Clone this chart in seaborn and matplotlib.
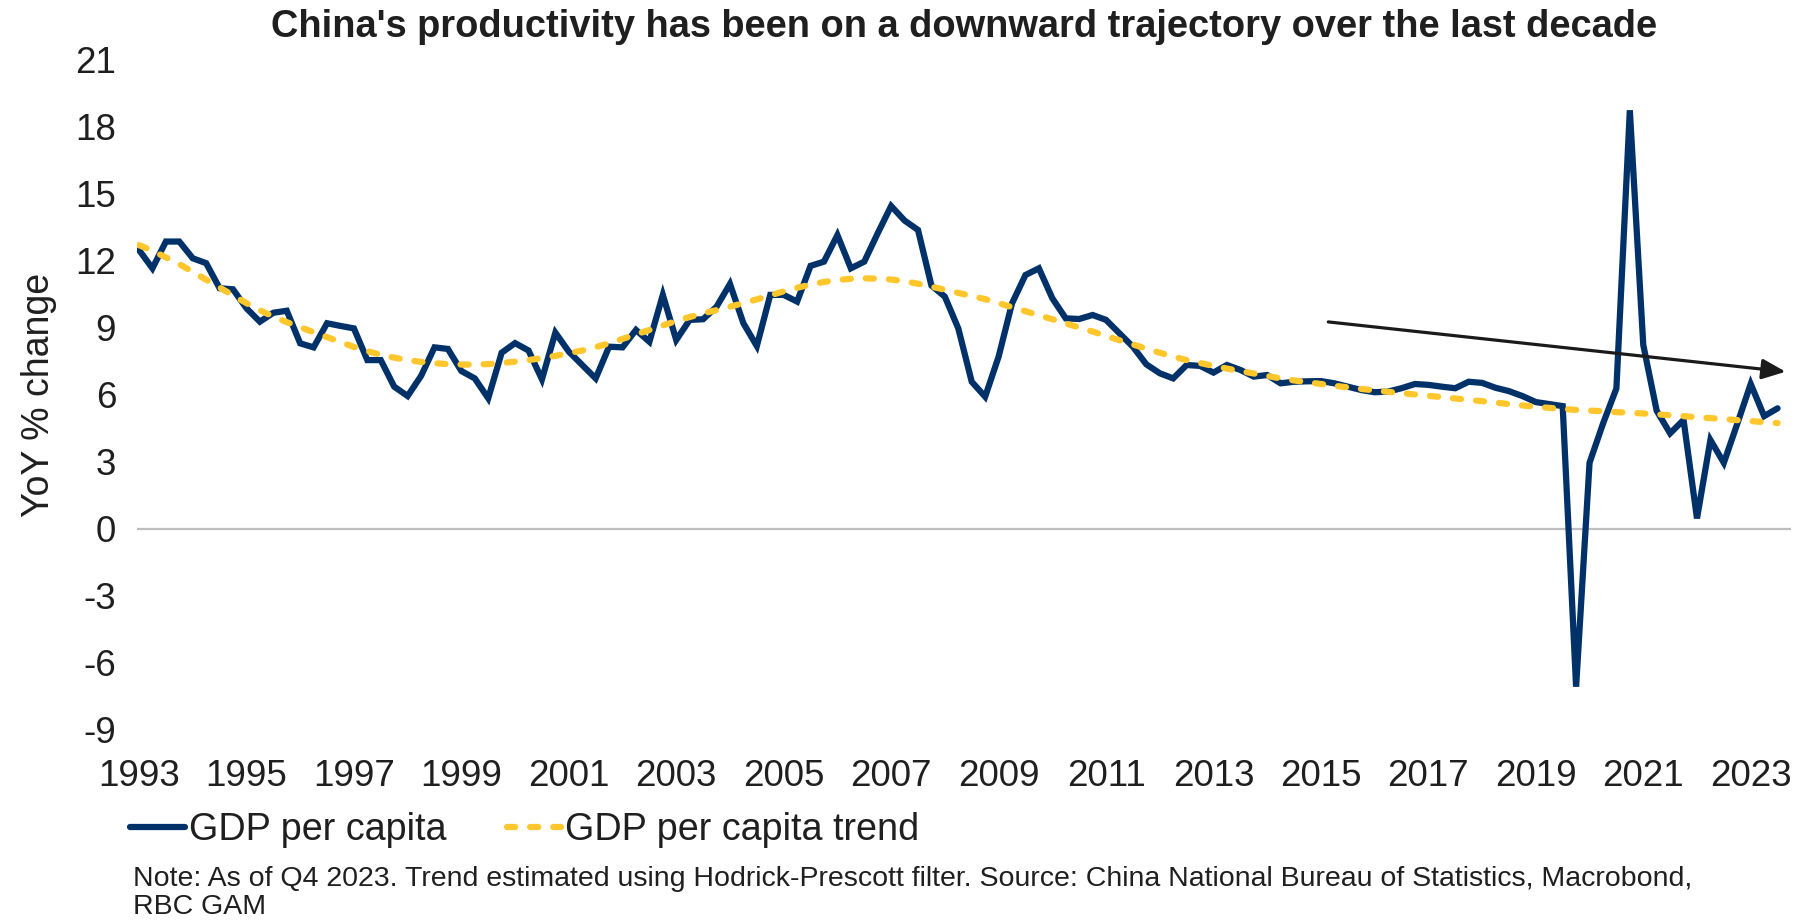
import matplotlib
matplotlib.use("Agg")
import matplotlib.pyplot as plt
import seaborn as sns
import pandas as pd
from matplotlib.lines import Line2D

# ---------------- data (quarterly, 1993 Q2 .. 2023 Q4) ----------------
gdp_per_capita = [
    12.48, 11.66, 12.86, 12.86, 12.11, 11.89, 10.77, 10.72, 9.87, 9.27,
    9.67, 9.76, 8.30, 8.12, 9.20, 9.08, 8.97, 7.55, 7.55, 6.36,
    5.94, 6.84, 8.12, 8.05, 7.06, 6.73, 5.84, 7.88, 8.31, 7.98,
    6.69, 8.78, 7.93, 7.33, 6.73, 8.15, 8.12, 8.90, 8.37, 10.47,
    8.45, 9.35, 9.38, 9.94, 10.96, 9.20, 8.18, 10.47, 10.47, 10.17,
    11.77, 11.96, 13.15, 11.66, 11.96, 13.23, 14.45, 13.80, 13.38, 10.89,
    10.39, 8.97, 6.58, 5.91, 7.70, 10.09, 11.36, 11.66, 10.32, 9.42,
    9.39, 9.57, 9.35, 8.75, 8.15, 7.36, 6.96, 6.73, 7.33, 7.29,
    6.99, 7.33, 7.11, 6.81, 6.88, 6.51, 6.58, 6.60, 6.61, 6.51,
    6.36, 6.21, 6.11, 6.14, 6.29, 6.48, 6.44, 6.36, 6.29, 6.58,
    6.53, 6.31, 6.16, 5.94, 5.67, 5.58, 5.49, -7.08, 2.95, 4.70,
    6.28, 18.74, 8.23, 5.28, 4.27, 4.87, 0.46, 3.97, 2.95, 4.70,
    6.48, 5.04, 5.39,
]
gdp_trend = [
    12.70, 12.45, 12.15, 11.85, 11.50, 11.15, 10.80, 10.45, 10.10, 9.78,
    9.50, 9.25, 9.02, 8.80, 8.58, 8.36, 8.14, 7.95, 7.79, 7.66,
    7.55, 7.47, 7.41, 7.37, 7.35, 7.35, 7.37, 7.42, 7.48, 7.55,
    7.64, 7.74, 7.86, 7.98, 8.13, 8.30, 8.50, 8.70, 8.90, 9.10,
    9.30, 9.48, 9.64, 9.79, 9.94, 10.10, 10.27, 10.45, 10.63, 10.79,
    10.93, 11.05, 11.14, 11.19, 11.21, 11.20, 11.16, 11.08, 10.97, 10.84,
    10.70, 10.56, 10.42, 10.28, 10.10, 9.92, 9.74, 9.56, 9.38, 9.19,
    9.01, 8.83, 8.63, 8.44, 8.25, 8.06, 7.88, 7.71, 7.55, 7.42,
    7.29, 7.17, 7.06, 6.95, 6.84, 6.73, 6.64, 6.56, 6.48, 6.40,
    6.33, 6.26, 6.19, 6.13, 6.07, 6.01, 5.95, 5.89, 5.83, 5.77,
    5.71, 5.65, 5.58, 5.52, 5.46, 5.41, 5.36, 5.32, 5.29, 5.26,
    5.22, 5.19, 5.16, 5.12, 5.08, 5.04, 4.99, 4.95, 4.91, 4.86,
    4.82, 4.77, 4.73,
]
quarters = [f"{1993 + (k + 1) // 4}Q{(k + 1) % 4 + 1}" for k in range(len(gdp_per_capita))]
year_ticks = list(range(1993, 2024, 2))
y_ticks = list(range(-9, 22, 3))

series_names = ["GDP per capita", "GDP per capita trend"]
title = "China's productivity has been on a downward trajectory over the last decade"
note = ("Note: As of Q4 2023. Trend estimated using Hodrick-Prescott filter. Source: China National Bureau of Statistics, Macrobond,\n"
        "RBC GAM")

# arrow annotation (data coords: quarter index, %)
arrow_start = (88.55, 9.26)
arrow_end = (122.6, 7.03)

# ---------------- styling ----------------
NAVY = "#003168"
GOLD = "#FFC72C"
TXT = "#1f1f1f"
LW = 4.5
DASH = (1.3, 2.4)

sns.set_theme(style="white")
plt.rcParams["font.family"] = ["Liberation Sans", "DejaVu Sans"]

idx = list(range(len(gdp_per_capita)))
df_gdp = pd.DataFrame({"t": idx, "quarter": quarters, "value": gdp_per_capita})
df_trend = pd.DataFrame({"t": idx, "quarter": quarters, "value": gdp_trend})

fig = plt.figure(figsize=(18.02, 9.22), dpi=100)
ax = fig.add_axes([137 / 1802, 1 - 729.6 / 922, (1791 - 137) / 1802, (729.6 - 59.8) / 922])

ax.axhline(0, color="#BFBFBF", lw=1.6, zorder=1)

sns.lineplot(data=df_gdp, x="t", y="value", ax=ax, color=NAVY, linewidth=LW,
             zorder=3, legend=False)
sns.lineplot(data=df_trend, x="t", y="value", ax=ax, color=GOLD, linewidth=LW,
             zorder=4, legend=False)
l_gdp, l_trend = ax.get_lines()[-2], ax.get_lines()[-1]
l_gdp.set_solid_capstyle("round")
l_gdp.set_solid_joinstyle("miter")
l_trend.set_dashes(DASH)
l_trend.set_dash_capstyle("round")

ax.annotate("", xy=arrow_end, xytext=arrow_start,
            arrowprops=dict(arrowstyle="-|>,head_length=0.65,head_width=0.28",
                            color="#1a1a1a", lw=2.3, mutation_scale=22,
                            shrinkA=0, shrinkB=0), zorder=5)

ax.set_xlim(-0.15, 123)
ax.set_ylim(-9, 21)
ax.set_yticks(y_ticks)
ax.set_yticklabels([str(v) for v in y_ticks])
ax.set_xticks([(y - 1993) * 4 for y in year_ticks])
ax.set_xticklabels([str(y) for y in year_ticks])
ax.tick_params(axis="both", length=0, labelsize=26.5, colors=TXT)
ax.tick_params(axis="y", pad=15)
ax.tick_params(axis="x", pad=21)
ax.set_xlabel("")
ax.set_ylabel("YoY % change", fontsize=27, color=TXT, labelpad=13)
for s in ax.spines.values():
    s.set_visible(False)

fig.text(964 / 1802, 1 - 27 / 922, title, ha="center", va="center",
         fontsize=27.4, fontweight="bold", color=TXT)

handles = [
    Line2D([0], [0], color=NAVY, lw=LW, solid_capstyle="round"),
    Line2D([0], [0], color=GOLD, lw=LW, dashes=DASH, dash_capstyle="round"),
]
fig.legend(handles, series_names, loc="center left", bbox_to_anchor=(130 / 1802, 1 - 830 / 922),
           ncol=2, frameon=False, fontsize=27.2, handlelength=1.45, handletextpad=0.1,
           columnspacing=1.6, labelcolor=TXT, borderpad=0, borderaxespad=0)

fig.text(133 / 1802, 1 - 893 / 922, note, ha="left", va="center", fontsize=20.5,
         color=TXT, linespacing=1.1)

fig.savefig("out.png", dpi=100)
